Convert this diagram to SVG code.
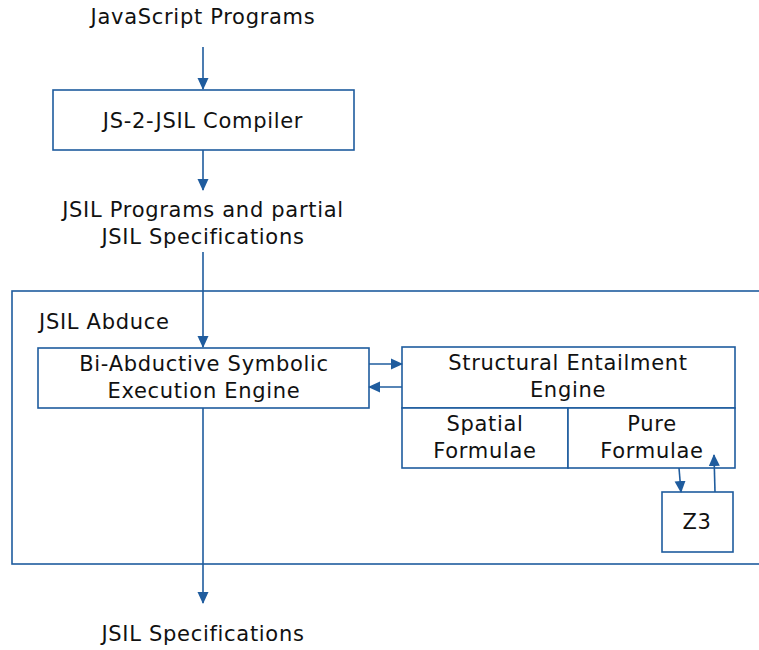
<svg xmlns="http://www.w3.org/2000/svg" width="759" height="650" viewBox="0 0 759 650">
<defs>
<style>
text{font-family:"DejaVu Sans","Open Sans",sans-serif;font-size:21px;letter-spacing:0.7px;fill:#111;text-anchor:middle}
.box{fill:#fff;stroke:#1f5c9e;stroke-width:1.6}
.ln{fill:none;stroke:#1f5c9e;stroke-width:1.6}
</style>
<marker id="ah" markerWidth="12" markerHeight="12" refX="11" refY="6" orient="auto" markerUnits="userSpaceOnUse" viewBox="0 0 12 12">
<path d="M0,0.5 L12,6 L0,11.5 Z" fill="#1f5c9e"/>
</marker>
</defs>
<g id="abduce">
<rect class="box" x="12" y="291" width="760" height="273"/>
<text x="39" y="329" style="text-anchor:start">JSIL Abduce</text>
</g>
<g id="js-programs"><text x="203" y="24">JavaScript Programs</text></g>
<g id="compiler">
<rect class="box" x="53" y="90" width="301" height="60"/>
<text x="203" y="128">JS-2-JSIL Compiler</text>
</g>
<g id="jsil-programs">
<text x="203" y="217">JSIL Programs and partial</text>
<text x="203" y="244">JSIL Specifications</text>
</g>
<g id="biabductive">
<rect class="box" x="38" y="348" width="331" height="60"/>
<text x="204" y="371">Bi-Abductive Symbolic</text>
<text x="204" y="398">Execution Engine</text>
</g>
<g id="structural">
<rect class="box" x="402" y="347" width="333" height="61"/>
<text x="568" y="370">Structural Entailment</text>
<text x="568" y="397">Engine</text>
</g>
<g id="spatial">
<rect class="box" x="402" y="408" width="166" height="60"/>
<text x="485" y="431">Spatial</text>
<text x="485" y="458">Formulae</text>
</g>
<g id="pure">
<rect class="box" x="568" y="408" width="167" height="60"/>
<text x="652" y="431">Pure</text>
<text x="652" y="458">Formulae</text>
</g>
<g id="z3">
<rect class="box" x="662" y="492" width="71" height="60"/>
<text x="697" y="529">Z3</text>
</g>
<g id="jsil-specs"><text x="203" y="641">JSIL Specifications</text></g>
<g id="connectors">
<line class="ln" x1="203" y1="47" x2="203" y2="89" marker-end="url(#ah)"/>
<line class="ln" x1="203" y1="150" x2="203" y2="190" marker-end="url(#ah)"/>
<line class="ln" x1="203" y1="252" x2="203" y2="347" marker-end="url(#ah)"/>
<line class="ln" x1="369" y1="364" x2="402" y2="364" marker-end="url(#ah)"/>
<line class="ln" x1="402" y1="387" x2="369" y2="387" marker-end="url(#ah)"/>
<line class="ln" x1="679" y1="468" x2="681" y2="492" marker-end="url(#ah)"/>
<line class="ln" x1="715" y1="492" x2="714" y2="455" marker-end="url(#ah)"/>
<line class="ln" x1="203" y1="408" x2="203" y2="603" marker-end="url(#ah)"/>
</g>
</svg>
